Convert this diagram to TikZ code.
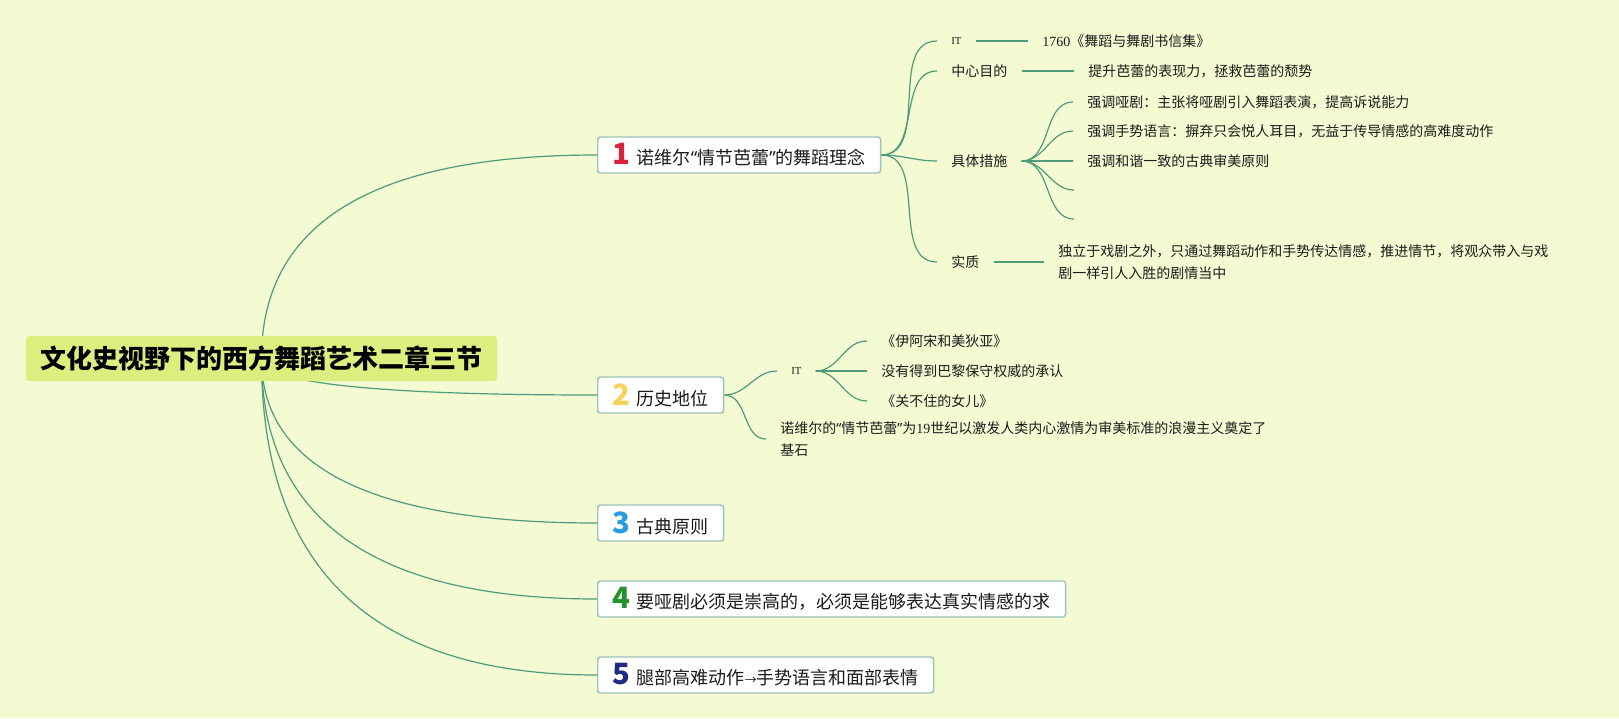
\documentclass[tikz,border=0pt]{standalone}
\usepackage{fontspec}
\setmainfont{Noto Sans CJK SC}
\newfontfamily\numfont{Liberation Serif}
\newfontfamily\quotefont{Noto Sans}
\usetikzlibrary{calc}
\pgfdeclarelayer{bg}
\pgfsetlayers{bg,main}
\definecolor{bgcol}{HTML}{F4FAD2}
\definecolor{linkcol}{HTML}{4E9C7C}
\definecolor{boxcol}{HTML}{9DC4B4}
\definecolor{rootcol}{HTML}{DBEF7E}
\definecolor{inkcol}{HTML}{1C1C1C}
\definecolor{num1}{HTML}{D8213B}
\definecolor{num2}{HTML}{F3D35C}
\definecolor{num3}{HTML}{2B9BDF}
\definecolor{num4}{HTML}{23932E}
\definecolor{num5}{HTML}{1E2C85}
\newcommand{\topicnum}[2]{\textcolor{#1}{\fontsize{22pt}{22pt}\selectfont\bfseries #2}\hspace{5pt}}
\newcommand{\itmark}{{\numfont\fontsize{8pt}{8pt}\selectfont IT}}
\newcommand{\openq}{{\quotefont “}}
\newcommand{\closeq}{{\quotefont ”}}

\begin{document}
\begin{tikzpicture}[x=0.75pt,y=-0.75pt,
  link/.style={draw=linkcol, line width=0.9pt},
  rootbox/.style={fill=rootcol, rounded corners=3pt, minimum height=34pt, inner xsep=11pt,
    font=\fontsize{19.5pt}{22pt}\selectfont\bfseries, text=black},
  topic/.style={draw=boxcol, fill=white, rounded corners=2pt, line width=1.1pt, anchor=west,
    minimum height=27pt, inner xsep=11pt, inner ysep=0pt, font=\fontsize{13.5pt}{16pt}\selectfont, text=inkcol},
  leaf/.style={anchor=west, inner xsep=10.5pt, inner ysep=2pt, align=left,
    font=\fontsize{10.5pt}{17pt}\selectfont, text=inkcol}]
\useasboundingbox (0,0) rectangle (1619,718);
\begin{pgfonlayer}{bg}
\fill[bgcol] (0,0) rectangle (1619,718);
\end{pgfonlayer}

% central topic
\node[rootbox] (root) at (261.5,358.5) {文化史视野下的西方舞蹈艺术二章三节};

% main topics
\node[topic] (idea) at (597,155) {\topicnum{num1}{1}诺维尔\openq 情节芭蕾\closeq 的舞蹈理念};
\node[topic] (history) at (597,395) {\topicnum{num2}{2}历史地位};
\node[topic] (classic) at (597,523) {\topicnum{num3}{3}古典原则};
\node[topic] (mime) at (597,599) {\topicnum{num4}{4}要哑剧必须是崇高的，必须是能够表达真实情感的求};
\node[topic] (legs) at (597,675) {\topicnum{num5}{5}腿部高难动作{\fontsize{9pt}{9pt}\selectfont →}手势语言和面部表情};

% topic 1
\node[leaf] (it1) at (937,41) {\itmark};
\node[leaf] (letters) at (1028,41) {{\numfont 1760}《舞蹈与舞剧书信集》};
\node[leaf] (aim) at (937,71) {中心目的};
\node[leaf] (aimtxt) at (1074,71) {提升芭蕾的表现力，拯救芭蕾的颓势};
\node[leaf] (means) at (937,161) {具体措施};
\node[leaf] (m1) at (1073,102) {强调哑剧：主张将哑剧引入舞蹈表演，提高诉说能力};
\node[leaf] (m2) at (1073,131) {强调手势语言：摒弃只会悦人耳目，无益于传导情感的高难度动作};
\node[leaf] (m3) at (1073,161) {强调和谐一致的古典审美原则};
\coordinate (m4) at (1074,190);
\coordinate (m5) at (1074,219);
\node[leaf] (essence) at (937,262) {实质};
\node[leaf] (esstxt) at (1044,262) {独立于戏剧之外，只通过舞蹈动作和手势传达情感，推进情节，将观众带入与戏\\剧一样引人入胜的剧情当中};

% topic 2
\node[leaf] (it2) at (777,371) {\itmark};
\node[leaf] (w1) at (867,341) {《伊阿宋和美狄亚》};
\node[leaf] (w2) at (867,371) {没有得到巴黎保守权威的承认};
\node[leaf] (w3) at (867,401) {《关不住的女儿》};
\node[leaf] (base) at (766,439) {诺维尔的\openq 情节芭蕾\closeq 为{\numfont 19}世纪以激发人类内心激情为审美标准的浪漫主义奠定了\\基石};

\begin{pgfonlayer}{bg}
% branches from the centre
\foreach \t in {idea,history,classic,mime,legs}
  \draw[link] (root.center) .. controls ($(root.center)!2/3!(root.center |- \t.west)$)
    and ($(\t.west)!2/3!(root.center |- \t.west)$) .. (\t.west);
% topic 1
\foreach \t in {it1,aim,means,essence}
  \draw[link] (idea.east) to[out=0,in=180] (\t.west);
\draw[link] (it1) -- (letters);
\draw[link] (aim) -- (aimtxt);
\foreach \t in {m1,m2,m3}
  \draw[link] (means.east) to[out=0,in=180] (\t.west);
\foreach \t in {m4,m5}
  \draw[link] (means.east) to[out=0,in=180] (\t);
\draw[link] (essence) -- (esstxt);
% topic 2
\draw[link] (history.east) to[out=0,in=180] (it2.west);
\draw[link] (history.east) to[out=0,in=180] (base.west);
\foreach \t in {w1,w2,w3}
  \draw[link] (it2.east) to[out=0,in=180] (\t.west);
\end{pgfonlayer}
\end{tikzpicture}
\end{document}
